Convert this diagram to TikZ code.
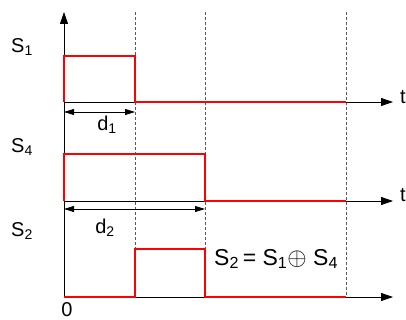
\documentclass[tikz,border=0pt]{standalone}
\usepackage{fontspec}
\setmainfont{Liberation Sans}
\usetikzlibrary{arrows.meta, positioning}

\begin{document}
\begin{tikzpicture}[
    x=1pt, y=-1pt,
    >={Triangle[length=12pt, width=8pt]},
    axis/.style={draw, ->, line width=0.8pt},
    wave/.style={draw=red, line width=2.4pt, line join=miter},
    guide/.style={draw=black!65, line width=0.7pt, dash pattern=on 3pt off 2pt},
    span/.style={draw, {Triangle[length=10pt, width=6pt]}-{Triangle[length=10pt, width=6pt]}, line width=0.8pt},
    lbl/.style={font=\fontsize{20}{22}\selectfont, inner sep=0pt}
]
    \useasboundingbox (0,0) rectangle (406,320);

    % Coordinates
    \coordinate (o) at (64,297);
    \coordinate (ytop) at (64,12);
    \coordinate (t1) at (393,102);
    \coordinate (t2) at (393,201);
    \coordinate (t3) at (393,297);

    % Guides
    \foreach \x in {135,205,346}
        \path [guide] (\x,12) -- (\x,297);

    % Axes
    \path [axis] (o) -- (ytop);
    \path [axis] (64,102) -- (t1);
    \path [axis] (64,201) -- (t2);
    \path [axis] (o) -- (t3);

    % Waveforms
    \path [wave] (64,102) -- (64,56) -- (135,56) -- (135,102) -- (346,102);
    \path [wave] (64,201) -- (64,154) -- (205,154) -- (205,201) -- (346,201);
    \path [wave] (64,297) -- (135,297) -- (135,249) -- (205,249) -- (205,297) -- (346,297);

    % Spans
    \coordinate (d1a) at (64,112);
    \coordinate (d1b) at (135,112);
    \coordinate (d2a) at (64,209);
    \coordinate (d2b) at (205,209);
    \path [span] (d1a) -- (d1b);
    \path [span] (d2a) -- (d2b);

    % Labels
    \node [lbl] (s1) at (22,47) {S\textsubscript{1}};
    \node [lbl] (s4) at (22,147) {S\textsubscript{4}};
    \node [lbl] (s2) at (22,231) {S\textsubscript{2}};
    \node [lbl] (ta) at (403,97) {t};
    \node [lbl] (tb) at (403,195) {t};
    \node [lbl] (d1) at (107,125) {d\textsubscript{1}};
    \node [lbl] (d2) at (105,228) {d\textsubscript{2}};
    \node [lbl] (zero) at (67,310) {0};
    \node [lbl, font=\fontsize{23}{25}\selectfont, anchor=west] (xor) at (214,259)
        {S\textsubscript{2}\,= S\textsubscript{1}$\oplus$ S\textsubscript{4}};

\end{tikzpicture}
\end{document}
